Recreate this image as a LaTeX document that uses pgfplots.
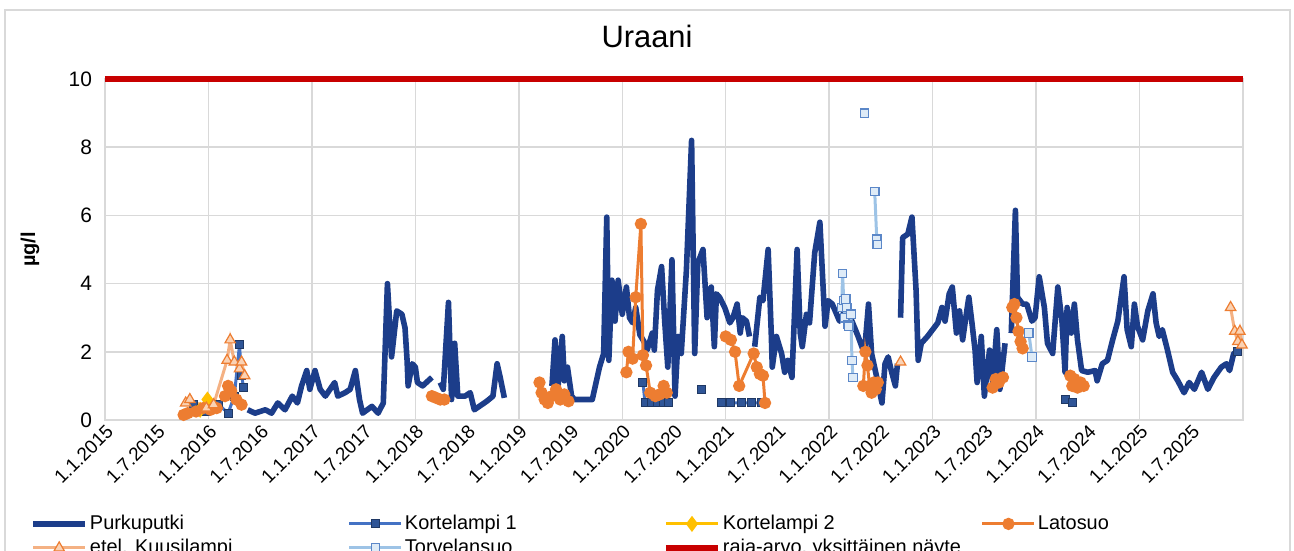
\documentclass[border=0pt]{standalone}
\usepackage{fontspec}
\setmainfont{Liberation Sans}
\usepackage{pgfplots}
\pgfplotsset{compat=1.18}
\definecolor{purku}{RGB}{28,61,138}
\definecolor{kort1}{RGB}{68,114,196}
\definecolor{kort1m}{RGB}{47,85,151}
\definecolor{kort1e}{RGB}{31,56,100}
\definecolor{kort2}{RGB}{255,192,0}
\definecolor{lato}{RGB}{237,125,49}
\definecolor{kuusi}{RGB}{244,177,131}
\definecolor{kuusif}{RGB}{250,210,180}
\definecolor{torve}{RGB}{157,195,230}
\definecolor{torvef}{RGB}{222,235,247}
\definecolor{torvee}{RGB}{91,135,200}
\definecolor{raja}{RGB}{200,0,0}
\definecolor{gridc}{RGB}{217,217,217}
\begin{document}
\begin{tikzpicture}
\begin{axis}[
  scale only axis,
  width=569bp, height=170.5bp,
  xmin=2015, xmax=2026, ymin=0, ymax=10,
  clip=false,
  unbounded coords=jump,
  axis line style={draw=gridc, line width=0.75bp},
  ytick={0,2,4,6,8,10},
  ymajorgrids, grid style={draw=gridc, line width=0.75bp},
  major tick length=0pt,
  yticklabel style={font=\fontsize{10.5}{12}\selectfont, xshift=-3bp},
  xtick={2015,2015.5,...,2025.5},
  xticklabels={1.1.2015,1.7.2015,1.1.2016,1.7.2016,1.1.2017,1.7.2017,1.1.2018,1.7.2018,1.1.2019,1.7.2019,1.1.2020,1.7.2020,1.1.2021,1.7.2021,1.1.2022,1.7.2022,1.1.2023,1.7.2023,1.1.2024,1.7.2024,1.1.2025,1.7.2025},
  xticklabel style={font=\fontsize{9.5}{11}\selectfont, rotate=45, anchor=north east, inner sep=1bp},
  extra x ticks={2016,2017,2018,2019,2020,2021,2022,2023,2024,2025},
  extra x tick labels={},
  extra x tick style={xmajorgrids=true},
  xtick pos=bottom, ytick pos=left,
  /pgf/number format/assume math mode=true,
  title={Uraani},
  title style={font=\fontsize{15.5}{18}\selectfont, at={(axis cs:2015,10)}, anchor=center, xshift=271bp, yshift=15.5bp},
  ylabel={\bfseries µg/l},
  ylabel style={font=\fontsize{10}{12}\selectfont, at={(rel axis cs:-0.0659,0.5)}, anchor=center},
  legend columns=4,
  legend cell align=left,
  legend style={draw=none, fill=none, inner sep=0pt, at={(rel axis cs:0,0)}, anchor=north west, xshift=-37.5bp, yshift=-46bp,
    font=\fontsize{10}{12}\selectfont, row sep=0.5bp,
    nodes={inner sep=1bp, text height=7.5bp, text depth=2bp}},
  legend image code/.code={\draw[mark repeat=2,mark phase=2,#1] plot coordinates {(0bp,0bp) (13bp,0bp) (26bp,0bp)};},
]
% Purkuputki
\addplot[purku, line width=2.8bp, line join=round] coordinates {
(2016.38,0.3)(2016.45,0.2)(2016.55,0.3)(2016.61,0.2)(2016.67,0.5)(2016.74,0.3)(2016.81,0.7)(2016.86,0.5)(2016.90,1.0)(2016.95,1.45)
(2016.98,0.9)(2017.03,1.45)(2017.08,0.9)(2017.13,0.7)(2017.22,1.1)(2017.25,0.7)(2017.32,0.8)(2017.37,0.9)(2017.42,1.45)(2017.46,0.6)
(2017.49,0.2)(2017.58,0.4)(2017.64,0.2)(2017.69,0.5)(2017.73,4.0)(2017.77,1.85)(2017.82,3.2)(2017.87,3.1)(2017.90,2.7)(2017.92,1.75)
(2017.93,1.0)(2017.97,1.65)(2018.00,1.55)(2018.02,1.1)(2018.07,1.0)(2018.16,1.25)(2018.20,nan)
(2018.24,1.1)(2018.27,0.9)(2018.32,3.45)(2018.35,0.6)(2018.38,2.25)(2018.41,0.7)(2018.48,0.7)(2018.53,0.8)(2018.57,0.3)(2018.69,0.55)
(2018.75,0.7)(2018.79,1.65)(2018.82,1.25)(2018.86,0.65)(2019.00,nan)
(2019.32,1.0)(2019.35,2.35)(2019.38,1.0)(2019.42,2.45)(2019.44,1.15)(2019.47,1.55)(2019.51,0.7)(2019.54,0.6)(2019.71,0.6)(2019.78,1.55)
(2019.82,1.95)(2019.85,5.95)(2019.87,1.75)(2019.90,4.1)(2019.93,2.9)(2019.96,4.1)(2020.00,3.1)(2020.04,3.9)(2020.07,3.0)(2020.10,2.85)
(2020.13,3.3)(2020.17,2.5)(2020.21,2.3)(2020.24,2.05)(2020.29,2.55)(2020.31,2.05)(2020.34,3.8)(2020.38,4.5)(2020.41,2.9)(2020.44,1.55)
(2020.48,4.7)(2020.51,0.7)(2020.54,2.45)(2020.57,1.95)(2020.62,4.4)(2020.67,8.2)(2020.70,1.95)(2020.73,4.6)(2020.78,5.0)(2020.82,3.0)
(2020.86,3.9)(2020.89,2.15)(2020.91,3.7)(2020.94,3.6)(2020.99,3.3)(2021.04,2.85)(2021.07,3.0)(2021.11,3.4)(2021.14,2.55)(2021.16,3.0)
(2021.20,2.9)(2021.23,2.45)(2021.25,nan)
(2021.28,2.15)(2021.33,3.6)(2021.36,3.5)(2021.40,4.7)(2021.41,5.0)(2021.44,2.55)(2021.45,1.55)(2021.49,2.45)(2021.54,1.95)(2021.57,1.4)
(2021.60,1.75)(2021.64,1.25)(2021.69,5.0)(2021.72,2.55)(2021.74,2.15)(2021.78,3.1)(2021.81,2.85)(2021.86,4.9)(2021.91,5.8)(2021.96,2.75)
(2021.99,3.5)(2022.03,3.4)(2022.10,2.9)(2022.15,3.2)(2022.22,2.9)(2022.28,2.45)(2022.34,1.95)(2022.38,3.4)(2022.41,1.95)(2022.46,1.25)
(2022.51,0.5)(2022.54,1.65)(2022.57,1.85)(2022.60,1.45)(2022.64,1.0)(2022.66,1.65)(2022.67,nan)
(2022.69,3.0)(2022.71,5.35)(2022.76,5.45)(2022.80,5.95)(2022.84,3.8)(2022.86,1.75)(2022.89,2.25)(2022.95,2.45)(2023.00,2.65)(2023.05,2.85)
(2023.09,3.3)(2023.12,2.9)(2023.16,3.7)(2023.19,3.9)(2023.23,2.55)(2023.26,3.2)(2023.29,2.35)(2023.33,3.2)(2023.35,3.6)(2023.38,2.85)
(2023.41,2.05)(2023.43,1.1)(2023.47,2.45)(2023.50,0.7)(2023.55,2.05)(2023.58,1.1)(2023.62,2.65)(2023.65,0.9)(2023.70,2.25)(2023.73,nan)
(2023.76,2.55)(2023.80,6.15)(2023.82,3.6)(2023.87,3.4)(2023.91,3.4)(2023.96,2.9)(2023.99,3.0)(2024.03,4.2)(2024.08,3.3)(2024.11,2.25)
(2024.16,1.95)(2024.21,3.9)(2024.25,2.9)(2024.28,1.4)(2024.30,3.3)(2024.34,2.55)(2024.37,3.4)(2024.40,2.35)(2024.44,1.45)(2024.50,1.4)
(2024.57,1.45)(2024.59,1.15)(2024.64,1.65)(2024.69,1.75)(2024.74,2.35)(2024.79,2.9)(2024.85,4.2)(2024.88,2.65)(2024.92,2.15)(2024.95,3.4)
(2024.98,2.75)(2025.03,2.35)(2025.08,3.2)(2025.13,3.7)(2025.16,2.85)(2025.19,2.45)(2025.22,2.65)(2025.27,2.05)(2025.32,1.4)(2025.37,1.15)
(2025.43,0.8)(2025.48,1.1)(2025.53,0.9)(2025.60,1.4)(2025.66,0.9)(2025.72,1.25)(2025.79,1.55)(2025.84,1.65)(2025.87,1.45)(2025.91,1.95)
(2025.95,2.0)
};
\addlegendentry{\makebox[128bp][l]{Purkuputki}}
% Kortelampi 1
\addplot[kort1, line width=1.5bp, mark=square*, mark size=2bp, mark options={fill=kort1m, draw=kort1e, line width=0.5bp}] coordinates {
(2015.86,0.45)(2015.92,0.3)(2015.98,0.25)(2016.10,0.45)(2016.19,0.2)(2016.25,0.7)(2016.30,2.2)(2016.32,1.3)(2016.34,0.95)(2017.0,nan)
(2020.20,1.1)(2020.22,0.5)(2020.28,0.5)(2020.34,0.5)(2020.40,0.5)(2020.45,0.5)(2020.6,nan)
(2020.77,0.9)(2020.85,nan)
(2020.96,0.5)(2021.05,0.5)(2021.15,0.5)(2021.25,0.5)(2021.35,0.5)(2022.0,nan)
(2024.28,0.6)(2024.35,0.5)(2025.0,nan)
(2025.95,2.0)
};
\addlegendentry{\makebox[128bp][l]{Kortelampi 1}}
% Kortelampi 2
\addplot[kort2, line width=1.5bp, mark=diamond*, mark size=2.8bp, mark options={fill=kort2, draw=kort2}] coordinates {
(2015.92,0.3)(2015.99,0.6)(2016.05,0.4)
};
\addlegendentry{\makebox[128bp][l]{Kortelampi 2}}
% Latosuo
\addplot[lato, line width=1.5bp, mark=*, mark size=2.3bp, mark options={fill=lato, draw=lato}] coordinates {
(2015.76,0.15)(2015.80,0.2)(2015.88,0.25)(2015.95,0.35)(2016.02,0.3)(2016.08,0.35)(2016.16,0.7)(2016.19,1.0)(2016.22,0.85)(2016.27,0.6)(2016.32,0.45)(2017.0,nan)
(2018.16,0.7)(2018.20,0.65)(2018.24,0.6)(2018.28,0.6)(2018.6,nan)
(2019.20,1.1)(2019.22,0.8)(2019.25,0.6)(2019.28,0.5)(2019.32,0.7)(2019.36,0.9)(2019.40,0.6)(2019.44,0.75)(2019.48,0.55)(2019.8,nan)
(2020.04,1.4)(2020.06,2.0)(2020.10,1.8)(2020.13,3.6)(2020.18,5.75)(2020.20,1.9)(2020.23,1.6)(2020.27,0.8)(2020.32,0.7)(2020.36,0.75)(2020.40,1.0)(2020.43,0.8)(2020.7,nan)
(2021.00,2.45)(2021.05,2.35)(2021.09,2.0)(2021.13,1.0)(2021.27,1.95)(2021.30,1.55)(2021.33,1.35)(2021.36,1.3)(2021.38,0.5)(2021.8,nan)
(2022.33,1.0)(2022.35,2.0)(2022.37,1.6)(2022.39,1.0)(2022.41,0.8)(2022.43,1.1)(2022.45,0.9)(2022.47,1.1)(2023.0,nan)
(2023.58,0.95)(2023.61,1.2)(2023.64,1.1)(2023.68,1.25)(2023.72,nan)
(2023.77,3.3)(2023.79,3.4)(2023.81,3.0)(2023.83,2.6)(2023.85,2.3)(2023.87,2.1)(2024.0,nan)
(2024.33,1.3)(2024.35,1.0)(2024.37,1.2)(2024.40,0.95)(2024.43,1.1)(2024.46,1.0)
};
\addlegendentry{\makebox[128bp][l]{Latosuo}}
% etel. Kuusilampi
\addplot[kuusi, line width=1.5bp, mark=triangle*, mark size=3bp, mark options={fill=kuusif, draw=lato, line width=0.6bp}] coordinates {
(2015.78,0.5)(2015.82,0.6)(2015.98,0.35)(2016.05,0.45)(2016.18,1.75)(2016.21,2.35)(2016.25,1.7)(2016.30,1.5)(2016.32,1.7)(2016.35,1.3)(2017.0,nan)
(2022.69,1.7)(2023.0,nan)
(2025.88,3.3)(2025.92,2.6)(2025.95,2.3)(2025.97,2.6)(2025.99,2.2)
};
\addlegendentry{\makebox[128bp][l]{etel. Kuusilampi}}
% Torvelansuo
\addplot[torve, line width=1.5bp, mark=square*, mark size=2.1bp, mark options={fill=torvef, draw=torvee, line width=0.6bp}] coordinates {
(2022.12,3.3)(2022.13,4.3)(2022.14,3.5)(2022.15,3.0)(2022.16,3.55)(2022.17,3.3)(2022.18,2.8)(2022.19,2.75)(2022.21,3.1)(2022.22,1.75)(2022.23,1.25)(2022.28,nan)
(2022.34,9.0)(2022.40,nan)
(2022.44,6.7)(2022.46,5.3)(2022.465,5.15)(2023.0,nan)
(2023.93,2.55)(2023.96,1.85)
};
\addlegendentry{\makebox[128bp][l]{Torvelansuo}}
% raja-arvo
\addplot[raja, line width=3bp] coordinates {(2015,10)(2026,10)};
\addlegendentry{\makebox[128bp][l]{raja-arvo, yksittäinen näyte}}
\end{axis}
\draw[gridc, line width=0.75bp] (-50bp,-80bp) rectangle (592.5bp,205bp);
\pgfresetboundingbox
\path[use as bounding box] (-52.5bp,-65.5bp) rectangle (594.5bp,210bp);
\end{tikzpicture}
\end{document}
